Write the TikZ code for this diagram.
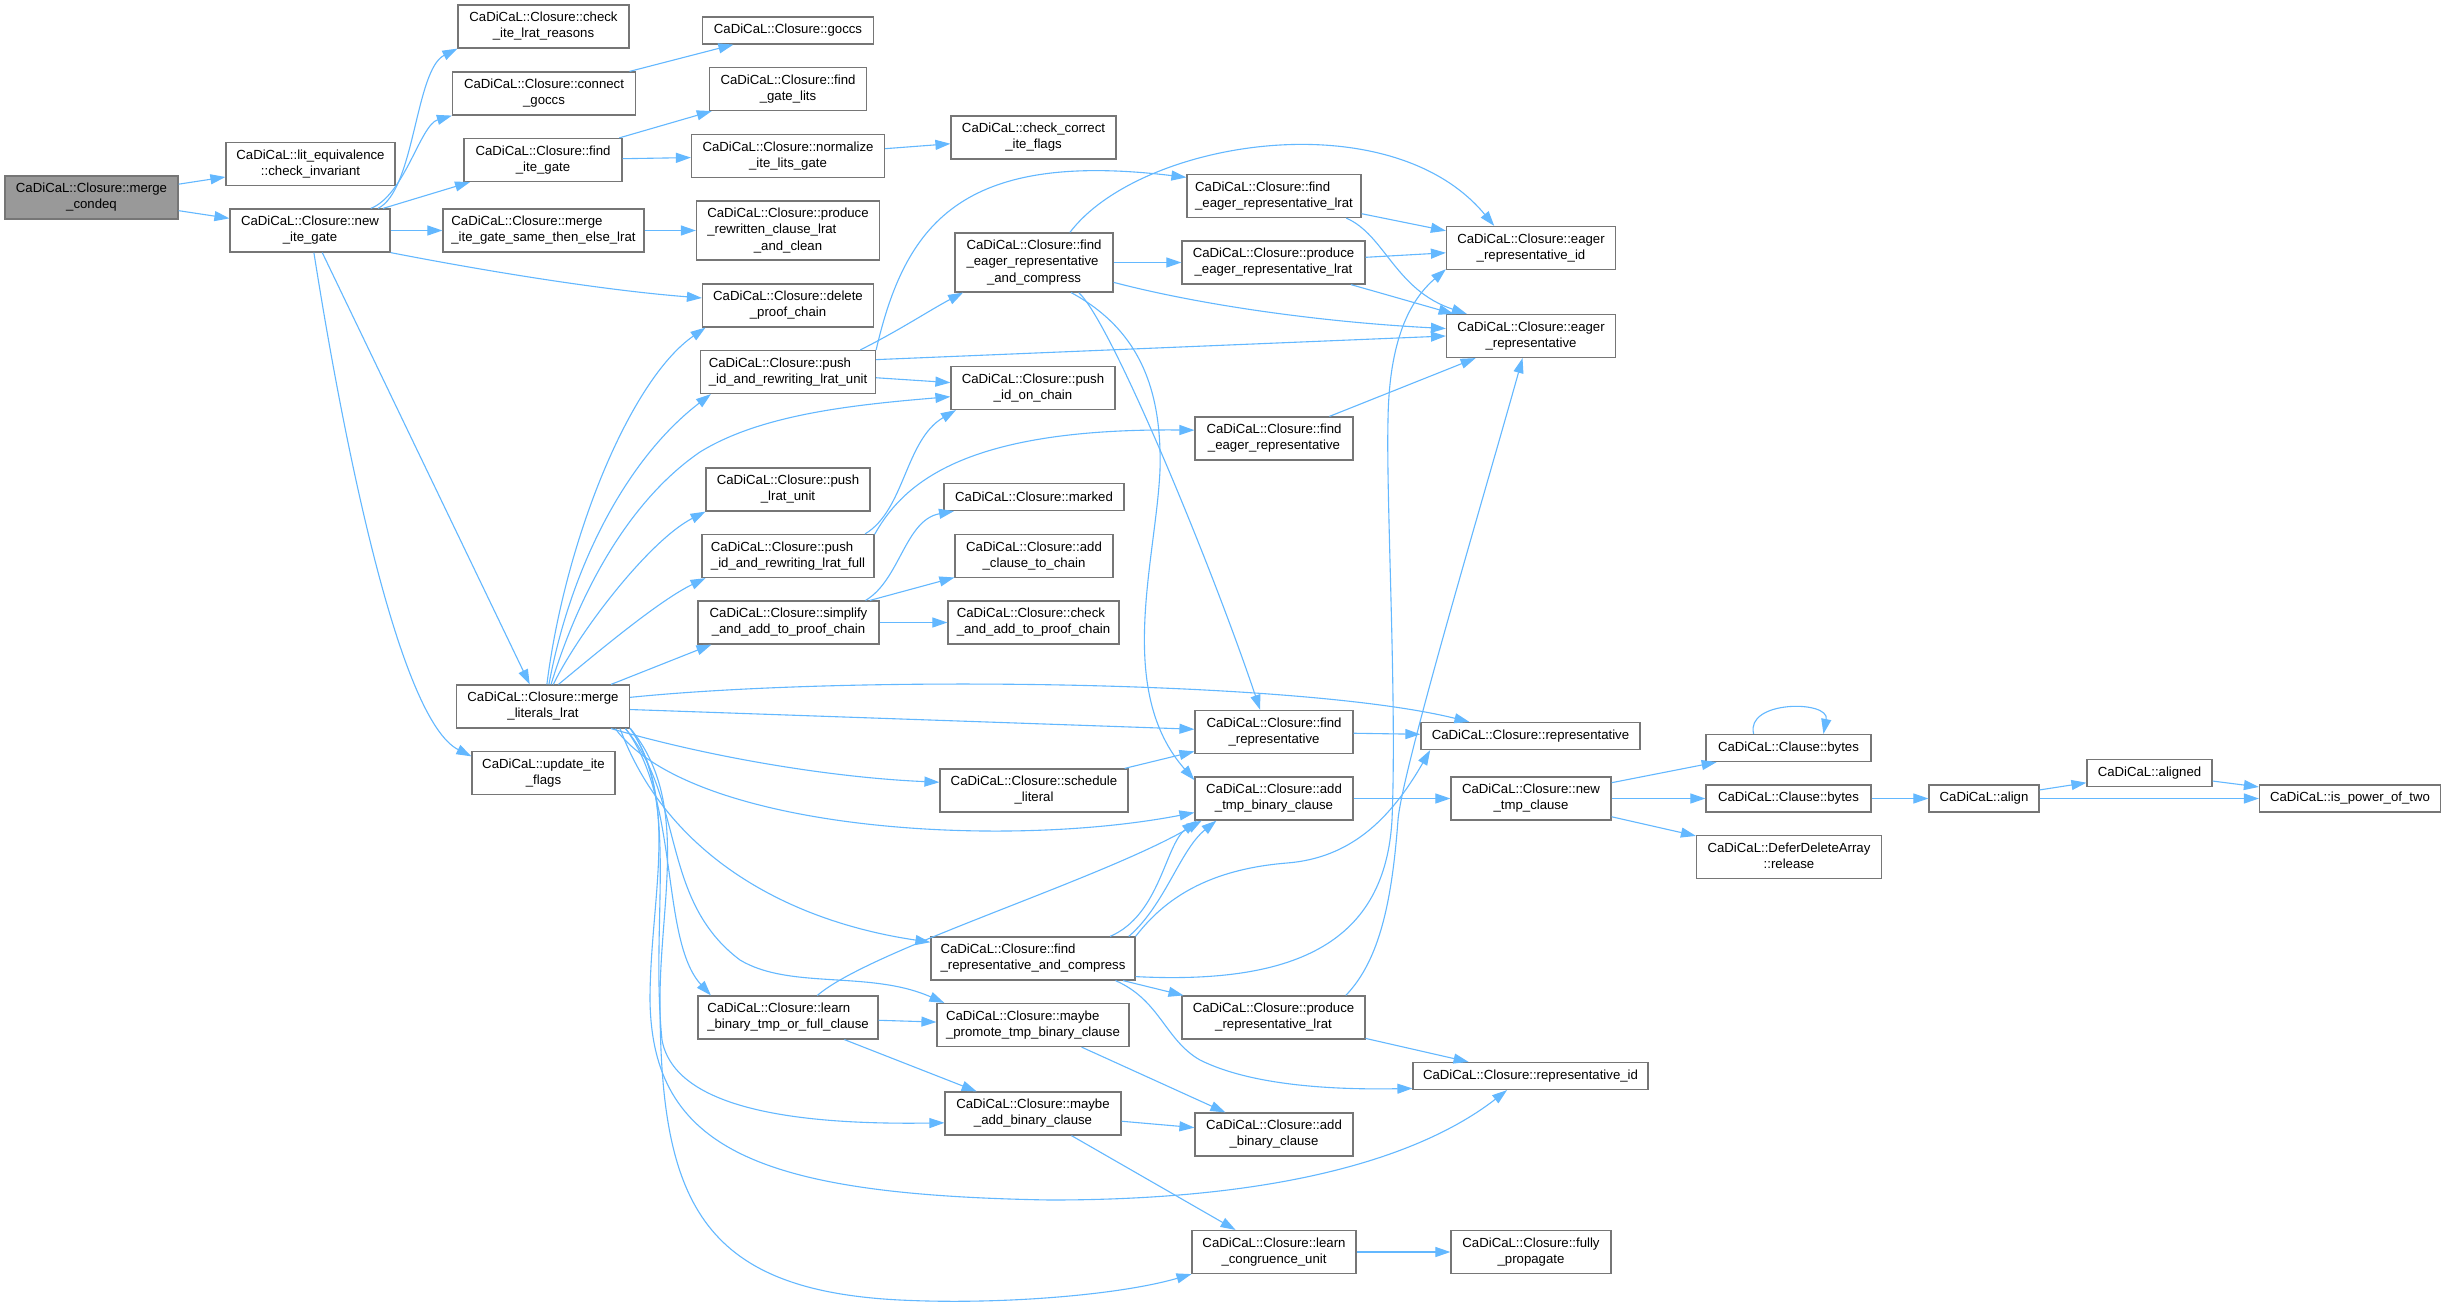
\documentclass[tikz,border=0pt]{standalone}
\usepackage{fontspec}
\setmainfont{Liberation Sans}
\usepackage{tikz}
\usetikzlibrary{arrows.meta}
\definecolor{callblue}{RGB}{99,184,255}
\definecolor{nodegrey}{RGB}{118,118,118}
\definecolor{rootgrey}{RGB}{153,153,153}
\newcommand{\twoline}[2]{\begin{tabular}{@{}l@{}}#1\\\multicolumn{1}{@{}c@{}}{#2}\end{tabular}}
\newcommand{\threeline}[3]{\begin{tabular}{@{}l@{}}#1\\#2\\\multicolumn{1}{@{}c@{}}{#3}\end{tabular}}
\begin{document}
\begin{tikzpicture}[x=1pt,y=-1pt,
  fn/.style={draw=nodegrey,fill=white,line width=1.2pt,inner sep=0pt,minimum height=43pt,
    font=\fontsize{13.2}{16.3}\selectfont,text=black},
  fn1/.style={fn,minimum height=27pt},
  fn3/.style={fn,minimum height=59pt},
  root/.style={fn,fill=rootgrey},
  call/.style={draw=callblue,line width=1.1pt,-{Triangle[length=15pt,width=10pt]}}]
\fill[white] (0,0) rectangle (2446,1309);
\useasboundingbox (0,0) rectangle (2446,1309);

\node[root,minimum width=173pt] (condeq) at (91.5,197.5) {\twoline{CaDiCaL::Closure::merge}{\_condeq}};
\node[fn,minimum width=169pt] (chkinv) at (310.5,164) {\twoline{CaDiCaL::lit\_equivalence}{::check\_invariant}};
\node[fn,minimum width=160pt] (newite) at (310,230.5) {\twoline{CaDiCaL::Closure::new}{\_ite\_gate}};

\node[fn,minimum width=171pt] (chkreasons) at (543.5,26.5) {\twoline{CaDiCaL::Closure::check}{\_ite\_lrat\_reasons}};
\node[fn,minimum width=183pt] (connect) at (544,93.5) {\twoline{CaDiCaL::Closure::connect}{\_goccs}};
\node[fn,minimum width=158pt] (findite) at (543,160) {\twoline{CaDiCaL::Closure::find}{\_ite\_gate}};
\node[fn,minimum width=201pt] (mergesame) at (543.5,230.5) {\twoline{CaDiCaL::Closure::merge}{\_ite\_gate\_same\_then\_else\_lrat}};
\node[fn,minimum width=173pt] (mergelits) at (543,706.5) {\twoline{CaDiCaL::Closure::merge}{\_literals\_lrat}};
\node[fn,minimum width=143pt] (upflags) at (543.5,773) {\twoline{CaDiCaL::update\_ite}{\_flags}};

\node[fn1,minimum width=171pt] (goccs) at (788,30.5) {CaDiCaL::Closure::goccs};
\node[fn,minimum width=157pt] (gatelits) at (788,89) {\twoline{CaDiCaL::Closure::find}{\_gate\_lits}};
\node[fn,minimum width=193pt] (normalize) at (788,156) {\twoline{CaDiCaL::Closure::normalize}{\_ite\_lits\_gate}};
\node[fn3,minimum width=183pt] (rewritten) at (788,230.5) {\threeline{CaDiCaL::Closure::produce}{\_rewritten\_clause\_lrat}{\_and\_clean}};
\node[fn,minimum width=171pt] (delchain) at (788,305.5) {\twoline{CaDiCaL::Closure::delete}{\_proof\_chain}};
\node[fn,minimum width=175pt] (pushunit) at (788,372) {\twoline{CaDiCaL::Closure::push}{\_id\_and\_rewriting\_lrat\_unit}};
\node[fn,minimum width=164pt] (lratunit) at (788,489.5) {\twoline{CaDiCaL::Closure::push}{\_lrat\_unit}};
\node[fn,minimum width=172pt] (pushfull) at (788,556) {\twoline{CaDiCaL::Closure::push}{\_id\_and\_rewriting\_lrat\_full}};
\node[fn,minimum width=181pt] (simplify) at (788.5,622.5) {\twoline{CaDiCaL::Closure::simplify}{\_and\_add\_to\_proof\_chain}};
\node[fn,minimum width=180pt] (learnbin) at (788,1017.5) {\twoline{CaDiCaL::Closure::learn}{\_binary\_tmp\_or\_full\_clause}};

\node[fn,minimum width=165pt] (chkflags) at (1033.5,137.5) {\twoline{CaDiCaL::check\_correct}{\_ite\_flags}};
\node[fn3,minimum width=158pt] (eagercomp) at (1034,262.5) {\threeline{CaDiCaL::Closure::find}{\_eager\_representative}{\_and\_compress}};
\node[fn,minimum width=164pt] (pushchain) at (1033,388) {\twoline{CaDiCaL::Closure::push}{\_id\_on\_chain}};
\node[fn1,minimum width=180pt] (marked) at (1034,497) {CaDiCaL::Closure::marked};
\node[fn,minimum width=158pt] (addchain) at (1034,556) {\twoline{CaDiCaL::Closure::add}{\_clause\_to\_chain}};
\node[fn,minimum width=171pt] (chkadd) at (1033.5,622.5) {\twoline{CaDiCaL::Closure::check}{\_and\_add\_to\_proof\_chain}};
\node[fn,minimum width=188pt] (schedule) at (1034,790.5) {\twoline{CaDiCaL::Closure::schedule}{\_literal}};
\node[fn,minimum width=204pt] (repcomp) at (1033,958.5) {\twoline{CaDiCaL::Closure::find}{\_representative\_and\_compress}};
\node[fn,minimum width=192pt] (promote) at (1033,1025) {\twoline{CaDiCaL::Closure::maybe}{\_promote\_tmp\_binary\_clause}};
\node[fn,minimum width=176pt] (maybeadd) at (1033,1113.5) {\twoline{CaDiCaL::Closure::maybe}{\_add\_binary\_clause}};

\node[fn,minimum width=174pt] (eagerlrat) at (1274,196) {\twoline{CaDiCaL::Closure::find}{\_eager\_representative\_lrat}};
\node[fn,minimum width=183pt] (prodeager) at (1273.5,262.5) {\twoline{CaDiCaL::Closure::produce}{\_eager\_representative\_lrat}};
\node[fn,minimum width=158pt] (findeager) at (1274,438.5) {\twoline{CaDiCaL::Closure::find}{\_eager\_representative}};
\node[fn,minimum width=158pt] (findrep) at (1274,732) {\twoline{CaDiCaL::Closure::find}{\_representative}};
\node[fn,minimum width=158pt] (addtmp) at (1274,798.5) {\twoline{CaDiCaL::Closure::add}{\_tmp\_binary\_clause}};
\node[fn,minimum width=183pt] (prodrep) at (1273.5,1017.5) {\twoline{CaDiCaL::Closure::produce}{\_representative\_lrat}};
\node[fn,minimum width=158pt] (addbin) at (1274,1134.5) {\twoline{CaDiCaL::Closure::add}{\_binary\_clause}};
\node[fn,minimum width=164pt] (congr) at (1274,1252) {\twoline{CaDiCaL::Closure::learn}{\_congruence\_unit}};

\node[fn,minimum width=169pt] (eagerid) at (1531,248) {\twoline{CaDiCaL::Closure::eager}{\_representative\_id}};
\node[fn,minimum width=169pt] (eagerrep) at (1531,336) {\twoline{CaDiCaL::Closure::eager}{\_representative}};
\node[fn1,minimum width=219pt] (rep) at (1530.5,736) {CaDiCaL::Closure::representative};
\node[fn,minimum width=160pt] (newtmp) at (1531,798.5) {\twoline{CaDiCaL::Closure::new}{\_tmp\_clause}};
\node[fn1,minimum width=235pt] (repid) at (1530.5,1076) {CaDiCaL::Closure::representative\_id};
\node[fn,minimum width=160pt] (fullprop) at (1531,1252) {\twoline{CaDiCaL::Closure::fully}{\_propagate}};

\node[fn1,minimum width=165pt] (bytesa) at (1788.5,748) {CaDiCaL::Clause::bytes};
\node[fn1,minimum width=165pt] (bytesb) at (1788.5,798.5) {CaDiCaL::Clause::bytes};
\node[fn,minimum width=185pt] (release) at (1789,857) {\twoline{CaDiCaL::DeferDeleteArray}{::release}};
\node[fn1,minimum width=110pt] (align) at (1984,798.5) {CaDiCaL::align};
\node[fn1,minimum width=125pt] (aligned) at (2149.5,773) {CaDiCaL::aligned};
\node[fn1,minimum width=181pt] (power) at (2350,798.5) {CaDiCaL::is\_power\_of\_two};

\draw[call] (condeq) -- (chkinv);
\draw[call] (condeq) -- (newite);

\draw[call] (newite.18) .. controls (415,190) and (415,70) .. (chkreasons.south west);
\draw[call] (newite.20) .. controls (405,195) and (420,125) .. (connect.south west);
\draw[call] (newite) -- (findite);
\draw[call] (newite) -- (mergesame);
\draw[call] (newite.south east) .. controls (480,270) and (600,290) .. (delchain.175);
\draw[call] (newite.-61) -- (mergelits.121);
\draw[call] (newite.-80) .. controls (345,450) and (400,720) .. (upflags.167);

\draw[call] (connect) -- (goccs);
\draw[call] (findite) -- (gatelits);
\draw[call] (findite) -- (normalize);
\draw[call] (normalize) -- (chkflags);
\draw[call] (mergesame) -- (rewritten);

\draw[call] (pushunit.17) .. controls (900,330) and (930,310) .. (eagercomp.-157);
\draw[call] (pushunit.14) .. controls (905,225) and (960,150) .. (eagerlrat.168);
\draw[call] (pushunit.8) -- (eagerrep.west);
\draw[call] (pushunit) -- (pushchain);

\draw[call] (eagercomp.40) .. controls (1140,140) and (1390,100) .. (eagerid.149);
\draw[call] (eagercomp) -- (prodeager);
\draw[call] (eagercomp.-14) .. controls (1200,305) and (1320,322) .. (eagerrep.175);
\draw[call] (eagercomp.-34) .. controls (1110,320) and (1210,561) .. (findrep.122);
\draw[call] (eagercomp.-39) .. controls (1140,330) and (1162,390) .. (1160,470)
  .. controls (1156,560) and (1115,690) .. (addtmp.167);

\draw[call] (eagerlrat) -- (eagerid);
\draw[call] (eagerlrat.-17) .. controls (1385,235) and (1395,290) .. (eagerrep.161);
\draw[call] (prodeager) -- (eagerid);
\draw[call] (prodeager) -- (eagerrep);
\draw[call] (findeager) -- (eagerrep);

\draw[call] (pushfull.16) .. controls (905,510) and (905,440) .. (pushchain.-164);
\draw[call] (pushfull.14) .. controls (905,480) and (970,428) .. (findeager.174);
\draw[call] (simplify.16) .. controls (900,580) and (905,520) .. (marked.-170);
\draw[call] (simplify) -- (addchain);
\draw[call] (simplify) -- (chkadd);

\draw[call] (mergelits.80) .. controls (565,540) and (630,380) .. (delchain.-165);
\draw[call] (mergelits.75) .. controls (570,570) and (625,460) .. (pushunit.-164);
\draw[call] (mergelits.70) .. controls (580,590) and (630,500) .. (700,452)
  .. controls (760,415) and (850,405) .. (pushchain.-174);
\draw[call] (mergelits.65) .. controls (580,630) and (650,540) .. (lratunit.-165);
\draw[call] (mergelits.55) .. controls (600,650) and (660,600) .. (pushfull.-165);
\draw[call] (mergelits.18) -- (simplify.-164);
\draw[call] (mergelits.6) .. controls (850,675) and (1300,680) .. (rep.167);
\draw[call] (mergelits) -- (findrep);
\draw[call] (mergelits.-18) .. controls (720,760) and (840,778) .. (schedule.175);
\draw[call] (mergelits.-17) .. controls (690,830) and (1000,850) .. (addtmp.-170);
\draw[call] (mergelits.-16) .. controls (665,850) and (780,920) .. (repcomp.171);
\draw[call] (mergelits.-15) .. controls (680,800) and (660,940) .. (learnbin.164);
\draw[call] (mergelits.-15) .. controls (685,800) and (660,900) .. (740,960)
  .. controls (790,990) and (870,970) .. (promote.166);
\draw[call] (mergelits.-14) .. controls (680,800) and (650,920) .. (662,1040)
  .. controls (675,1110) and (800,1125) .. (maybeadd.-174);
\draw[call] (mergelits.-14) .. controls (680,800) and (650,900) .. (650,1000)
  .. controls (652,1150) and (760,1195) .. (1050,1200)
  .. controls (1300,1200) and (1430,1150) .. (repid.-149);
\draw[call] (mergelits.-14) .. controls (690,800) and (660,900) .. (660,1000)
  .. controls (660,1200) and (700,1290) .. (900,1300)
  .. controls (1000,1305) and (1120,1295) .. (congr.-165);

\draw[call] (learnbin) -- (promote);
\draw[call] (learnbin) -- (maybeadd);
\draw[call] (learnbin.37) .. controls (870,950) and (1100,880) .. (addtmp.-163);
\draw[call] (promote) -- (addbin);
\draw[call] (maybeadd) -- (addbin);
\draw[call] (maybeadd) -- (congr);
\draw[call] (congr) -- (fullprop);

\draw[call] (repcomp.16) .. controls (1160,915) and (1165,845) .. (addtmp.-164);
\draw[call] (repcomp.13) .. controls (1165,905) and (1180,850) .. (addtmp.-159);
\draw[call] (repcomp.north east) .. controls (1160,905) and (1200,870) .. (1287,863)
  .. controls (1350,858) and (1390,820) .. (rep.-172);
\draw[call] (repcomp.-10) .. controls (1300,985) and (1385,940) .. (1392,820)
  .. controls (1397,700) and (1386,500) .. (1388,420)
  .. controls (1389,340) and (1410,300) .. (eagerid.-166);
\draw[call] (repcomp) -- (prodrep);
\draw[call] (repcomp.-15) .. controls (1160,1000) and (1165,1040) .. (1200,1060)
  .. controls (1250,1085) and (1330,1090) .. (repid.-174);
\draw[call] (prodrep) -- (repid);
\draw[call] (prodrep.17) .. controls (1380,960) and (1392,900) .. (1398,820)
  .. controls (1402,770) and (1484,496) .. (eagerrep.-111);

\draw[call] (schedule) -- (findrep);
\draw[call] (findrep) -- (rep);
\draw[call] (addtmp) -- (newtmp);
\draw[call] (newtmp) -- (bytesa);
\draw[call] (newtmp) -- (bytesb);
\draw[call] (newtmp) -- (release);
\draw[call] (bytesa.158) .. controls (1745,700) and (1830,700) .. (bytesa.22);
\draw[call] (bytesb) -- (align);
\draw[call] (align) -- (aligned);
\draw[call] (align) -- (power);
\draw[call] (aligned) -- (power);
\end{tikzpicture}
\end{document}
